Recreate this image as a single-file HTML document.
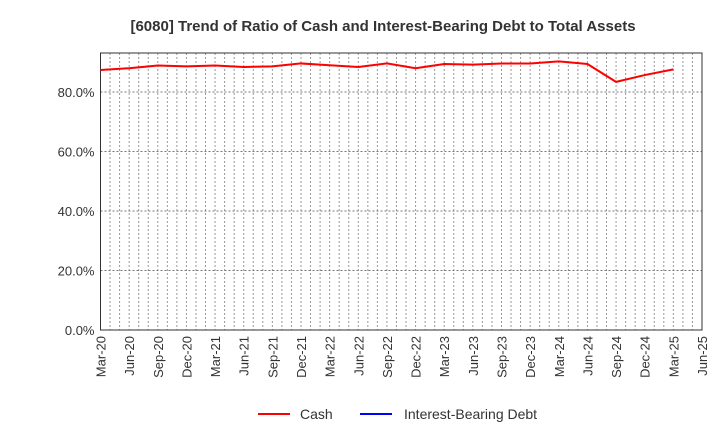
<!DOCTYPE html>
<html><head><meta charset="utf-8"><style>
body{margin:0;background:#fff;font-family:"Liberation Sans",sans-serif;}
</style></head><body>
<svg id="chart" width="720" height="440" xmlns="http://www.w3.org/2000/svg" font-family="Liberation Sans, sans-serif">
<text x="383" y="31" text-anchor="middle" font-size="15" font-weight="bold" fill="#333">[6080]  Trend of Ratio of Cash and Interest-Bearing Debt to Total Assets</text>
<g id="grid"></g>
<g id="axes"></g>
<g id="series"></g>
<g>
<line x1="258" y1="414" x2="290" y2="414" stroke="#f00" stroke-width="2"/>
<text x="300" y="419" font-size="14" fill="#333">Cash</text>
<line x1="360" y1="414" x2="392" y2="414" stroke="#00f" stroke-width="2"/>
<text x="404" y="419" font-size="14" fill="#333">Interest-Bearing Debt</text>
</g>
</svg>
<script>
const xLabels=["Mar-20","Jun-20","Sep-20","Dec-20","Mar-21","Jun-21","Sep-21","Dec-21","Mar-22","Jun-22","Sep-22","Dec-22","Mar-23","Jun-23","Sep-23","Dec-23","Mar-24","Jun-24","Sep-24","Dec-24","Mar-25","Jun-25"];
const cash=[87.4,88.0,88.9,88.6,88.9,88.4,88.6,89.6,89.0,88.4,89.6,88.0,89.4,89.2,89.6,89.6,90.3,89.4,83.4,85.7,87.6];
const debt=[];
const yTicks=[0,20,40,60,80];
const NS="http://www.w3.org/2000/svg";
const L=100.5,R=702,T=53,B=330;
const months=(xLabels.length-1)*3;
const x=i=>L+(R-L)*i/months;
const y=v=>B-(B-92)*v/80;
function mk(tag,attrs,parent){const e=document.createElementNS(NS,tag);for(const k in attrs)e.setAttribute(k,attrs[k]);parent.appendChild(e);return e;}
const grid=document.getElementById('grid'),axes=document.getElementById('axes'),ser=document.getElementById('series');
for(let m=1;m<months;m++){const g=mk('line',{x1:x(m),x2:x(m),y1:T,y2:B,stroke:'#999','stroke-dasharray':'2,2','stroke-width':1},grid);

}
yTicks.forEach(v=>{if(v>0){const g=mk('line',{x1:L,x2:R,y1:y(v),y2:y(v),stroke:'#777','stroke-dasharray':'2,2'},grid);

}
const t=mk('text',{x:L-6,y:y(v)+5,'text-anchor':'end','font-size':13,fill:'#333'},axes);t.textContent=v.toFixed(1)+'%';

});
const fr=mk('rect',{x:L,y:T,width:R-L,height:B-T,fill:'none',stroke:'#333'},axes);


xLabels.forEach((s,i)=>{const px=x(i*3);const t=mk('text',{x:px+5,y:B+6,'text-anchor':'end','font-size':13,fill:'#333',transform:`rotate(-90 ${px+5} ${B+6})`},axes);t.textContent=s;

});
const p=mk('polyline',{points:cash.map((v,i)=>x(i*3)+','+y(v)).join(' '),fill:'none',stroke:'#f00','stroke-width':2},ser);


if(debt.length){const d=mk('polyline',{points:debt.map((v,i)=>x(i*3)+','+y(v)).join(' '),fill:'none',stroke:'#00f','stroke-width':2},ser);

}
</script>
</body></html>
